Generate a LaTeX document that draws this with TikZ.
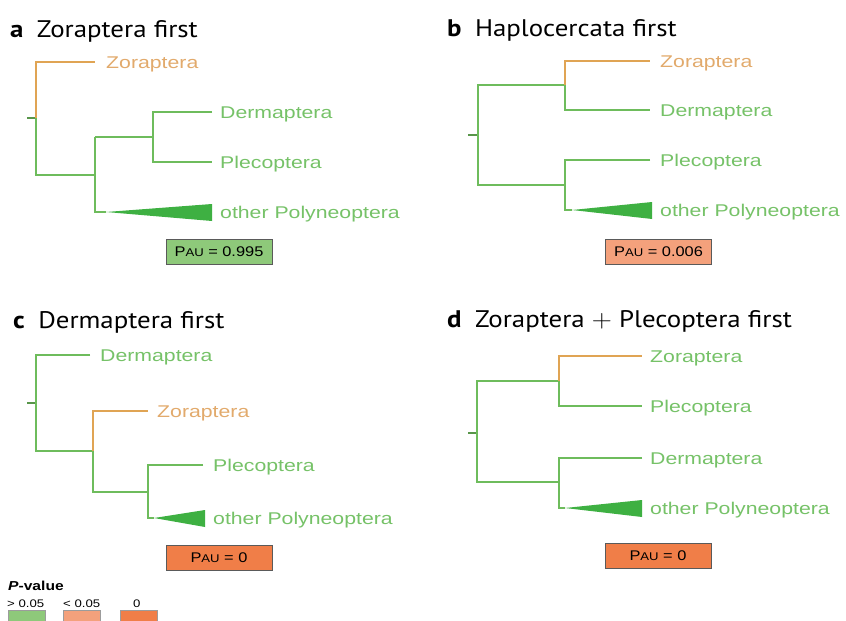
\documentclass[tikz,border=0pt]{standalone}
\usepackage{fontspec}
\setmainfont{Liberation Sans}
\newfontfamily\titlefont{PT Sans}
\newfontfamily\lblfont{Liberation Sans}
\newcommand{\hstr}[2]{\scalebox{#1}[1]{#2}}
\definecolor{brgreen}{RGB}{110,188,92}
\definecolor{txgreen}{RGB}{118,194,104}
\definecolor{brorange}{RGB}{224,164,84}
\definecolor{txorange}{RGB}{226,170,108}
\definecolor{trigreen}{RGB}{62,176,66}
\definecolor{pgreen}{RGB}{142,201,122}
\definecolor{psalmon}{RGB}{244,161,124}
\definecolor{porange}{RGB}{240,126,72}
\definecolor{pborder}{RGB}{90,90,90}
\tikzset{
  br/.style={draw=brgreen, line width=1.7pt},
  zo/.style={draw=brorange, line width=1.7pt},
  stub/.style={draw=brgreen!80!black, line width=1.2pt},
  tri/.style={fill=trigreen, draw=none},
  lbl/.style={anchor=base west, inner sep=0pt, text=txgreen, font=\lblfont\fontsize{17}{20}\selectfont},
  zlbl/.style={lbl, text=txorange},
  ttl/.style={anchor=base west, inner sep=0pt, text=black, font=\titlefont\fontsize{24}{28}\selectfont},
  pbox/.style={draw=pborder, line width=0.8pt, minimum width=106pt, minimum height=25pt, inner sep=0pt, font=\lblfont\fontsize{14}{16}\selectfont},
  swatch/.style={draw=pborder!60, line width=0.6pt, minimum width=37pt, minimum height=12pt, inner sep=0pt, anchor=north west},
  leg/.style={anchor=base west, inner sep=0pt, font=\lblfont\fontsize{11}{13}\selectfont},
}
\newcommand{\pau}[1]{\hstr{1.17}{P\scalebox{0.8}{AU} = #1}}
\newcommand{\lab}[1]{\hstr{1.25}{#1}}
\newcommand{\ttltext}[2]{\hstr{1.12}{\textbf{#1}\hspace{12pt}#2}}
\begin{document}
\begin{tikzpicture}[x=1pt,y=-1pt]
\path[use as bounding box] (0,0) rectangle (846,621);
\fill[white] (0,0) rectangle (846,621);

% ---------- panel a ----------
\node[ttl] (ta) at (10,37) {\ttltext{a}{Zoraptera first}};
\coordinate (aR0) at (27,118);
\coordinate (aR) at (36,118);
\coordinate (aZv) at (36,62);
\coordinate (aZ) at (95,62);
\coordinate (aLv) at (36,175);
\coordinate (aL) at (95,175);
\coordinate (aLt) at (95,137);
\coordinate (aLb) at (95,212);
\coordinate (aM) at (153,137);
\coordinate (aMt) at (153,112);
\coordinate (aMb) at (153,162);
\coordinate (aD) at (212,112);
\coordinate (aP) at (212,162);
\coordinate (aTa) at (106,212);
\draw[stub] (aR0) -- (aR);
\draw[zo] (aR) -- (aZv) -- (aZ);
\draw[br] (aR) -- (aLv) -- (aL);
\draw[br] (aLt) -- (aLb) -- (aTa);
\draw[br] (aLt) -- (aM);
\draw[br] (aD) -- (aMt) -- (aMb) -- (aP);
\fill[tri] (aTa) -- (212,204) -- (212,221) -- cycle;
\node[zlbl] (aZl) at (106,68) {\lab{Zoraptera}};
\node[lbl] (aDl) at (220,118) {\lab{Dermaptera}};
\node[lbl] (aPl) at (220,168) {\lab{Plecoptera}};
\node[lbl] (aOl) at (220,218) {\lab{other Polyneoptera}};
\node[pbox, fill=pgreen] (pa) at (219,251.5) {\pau{0.995}};

% ---------- panel b ----------
\node[ttl] (tb) at (447,36) {\ttltext{b}{Haplocercata first}};
\coordinate (bR0) at (468,135);
\coordinate (bR) at (478,135);
\coordinate (bUv) at (478,85);
\coordinate (bU) at (565,85);
\coordinate (bUt) at (565,61);
\coordinate (bUb) at (565,110);
\coordinate (bZ) at (650,61);
\coordinate (bD) at (650,110);
\coordinate (bLv) at (478,185);
\coordinate (bL) at (565,185);
\coordinate (bLt) at (565,160);
\coordinate (bLb) at (565,210);
\coordinate (bP) at (650,160);
\coordinate (bTa) at (572,210);
\draw[stub] (bR0) -- (bR);
\draw[br] (bU) -- (bUv) -- (bLv) -- (bL);
\draw[zo] (bU) -- (bUt) -- (bZ);
\draw[br] (bU) -- (bUb) -- (bD);
\draw[br] (bP) -- (bLt) -- (bLb) -- (bTa);
\fill[tri] (bTa) -- (652,202) -- (652,219) -- cycle;
\node[zlbl] (bZl) at (660,67) {\lab{Zoraptera}};
\node[lbl] (bDl) at (660,116) {\lab{Dermaptera}};
\node[lbl] (bPl) at (660,166) {\lab{Plecoptera}};
\node[lbl] (bOl) at (660,216) {\lab{other Polyneoptera}};
\node[pbox, fill=psalmon] (pb) at (658.5,251.5) {\pau{0.006}};

% ---------- panel c ----------
\node[ttl] (tc) at (13,328) {\ttltext{c}{Dermaptera first}};
\coordinate (cR0) at (27,403);
\coordinate (cR) at (36,403);
\coordinate (cDv) at (36,355);
\coordinate (cD) at (90,355);
\coordinate (cLv) at (36,451);
\coordinate (cL) at (93,451);
\coordinate (cLt) at (93,411);
\coordinate (cLb) at (93,492);
\coordinate (cZ) at (148,411);
\coordinate (cM) at (148,492);
\coordinate (cMt) at (148,465);
\coordinate (cMb) at (148,518);
\coordinate (cP) at (203,465);
\coordinate (cTa) at (154,518);
\draw[stub] (cR0) -- (cR);
\draw[br] (cD) -- (cDv) -- (cLv) -- (cL);
\draw[zo] (cL) -- (cLt) -- (cZ);
\draw[br] (cL) -- (cLb) -- (cM);
\draw[br] (cP) -- (cMt) -- (cMb) -- (cTa);
\fill[tri] (cTa) -- (205,510) -- (205,527) -- cycle;
\node[lbl] (cDl) at (100,361) {\lab{Dermaptera}};
\node[zlbl] (cZl) at (157,417) {\lab{Zoraptera}};
\node[lbl] (cPl) at (213,471) {\lab{Plecoptera}};
\node[lbl] (cOl) at (213,524) {\lab{other Polyneoptera}};
\node[pbox, fill=porange] (pc) at (219,557.5) {\pau{0}};

% ---------- panel d ----------
\node[ttl] (td) at (447,327) {\ttltext{d}{Zoraptera $+$ Plecoptera first}};
\coordinate (dR0) at (468,433);
\coordinate (dR) at (477,433);
\coordinate (dUv) at (477,381);
\coordinate (dU) at (559,381);
\coordinate (dUt) at (559,356);
\coordinate (dUb) at (559,406);
\coordinate (dZ) at (642,356);
\coordinate (dP) at (642,406);
\coordinate (dLv) at (477,482);
\coordinate (dL) at (559,482);
\coordinate (dLt) at (559,458);
\coordinate (dLb) at (559,508);
\coordinate (dD) at (642,458);
\coordinate (dTa) at (565,508);
\draw[stub] (dR0) -- (dR);
\draw[br] (dU) -- (dUv) -- (dLv) -- (dL);
\draw[zo] (dU) -- (dUt) -- (dZ);
\draw[br] (dU) -- (dUb) -- (dP);
\draw[br] (dD) -- (dLt) -- (dLb) -- (dTa);
\fill[tri] (dTa) -- (642,500) -- (642,517) -- cycle;
\node[lbl] (dZl) at (650,362) {\lab{Zoraptera}};
\node[lbl] (dPl) at (650,412) {\lab{Plecoptera}};
\node[lbl] (dDl) at (650,464) {\lab{Dermaptera}};
\node[lbl] (dOl) at (650,514) {\lab{other Polyneoptera}};
\node[pbox, fill=porange] (pd) at (658,555.5) {\pau{0}};

% ---------- legend ----------
\node[leg, font=\lblfont\bfseries\fontsize{13}{15}\selectfont] (lt) at (8,590) {\hstr{1.2}{\textit{P}-value}};
\node[leg] (l1) at (7,607) {\hstr{1.2}{> 0.05}};
\node[leg] (l2) at (63,607) {\hstr{1.2}{< 0.05}};
\node[leg] (l3) at (133,607) {\hstr{1.2}{0}};
\node[swatch, fill=pgreen] (s1) at (8,610) {};
\node[swatch, fill=psalmon] (s2) at (63,610) {};
\node[swatch, fill=porange] (s3) at (120,610) {};
\end{tikzpicture}
\end{document}
